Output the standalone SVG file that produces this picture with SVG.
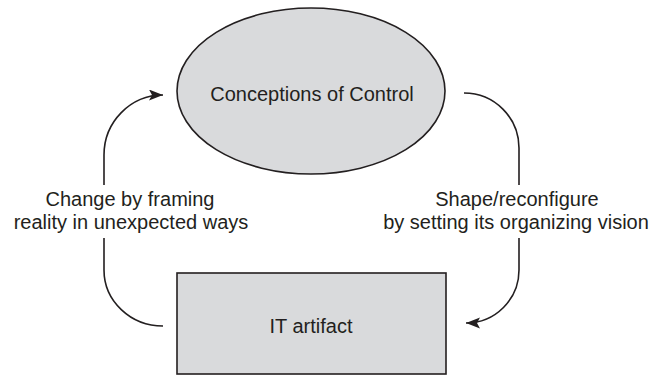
<svg xmlns="http://www.w3.org/2000/svg" width="661" height="376" viewBox="0 0 661 376">
  <style>
    .node { fill: #d9dadc; stroke: #231f20; stroke-width: 1.6; }
    .label { font-family: "Liberation Sans", Arial, sans-serif; font-size: 20px; fill: #231f20; text-anchor: middle; }
    .conn { fill: none; stroke: #231f20; stroke-width: 1.6; }
  </style>
  <defs>
    <marker id="arrow" markerUnits="userSpaceOnUse" markerWidth="16" markerHeight="12" refX="14" refY="5.5" orient="auto">
      <path d="M0,0 L14,5.5 L0,11 L3,5.5 Z" fill="#231f20"/>
    </marker>
  </defs>

  <g id="conceptions">
    <ellipse class="node" cx="311" cy="91" rx="134" ry="83"/>
    <text class="label" x="312" y="101">Conceptions of Control</text>
  </g>

  <g id="it-artifact">
    <rect class="node" x="177" y="273" width="269" height="101"/>
    <text class="label" x="311" y="333">IT artifact</text>
  </g>

  <g id="connectors">
    <!-- left loop: IT artifact back up to the conceptions, broken around its label -->
    <path class="conn" d="M163,326 A59,56 0 0 1 104,270 L104,238"/>
    <path class="conn" d="M104,185 L104,155 A59,60 0 0 1 163,95" marker-end="url(#arrow)"/>
    <!-- right loop: conceptions down to the IT artifact -->
    <path class="conn" d="M464,93 A55,55 0 0 1 519,148 L519,185"/>
    <path class="conn" d="M519,238 L519,270 A53,53 0 0 1 466,323" marker-end="url(#arrow)"/>
    <text class="label" x="130" y="206">Change by framing</text>
    <text class="label" x="131" y="229">reality in unexpected ways</text>
    <text class="label" x="517" y="206">Shape/reconfigure</text>
    <text class="label" x="516" y="229">by setting its organizing vision</text>
  </g>
</svg>
